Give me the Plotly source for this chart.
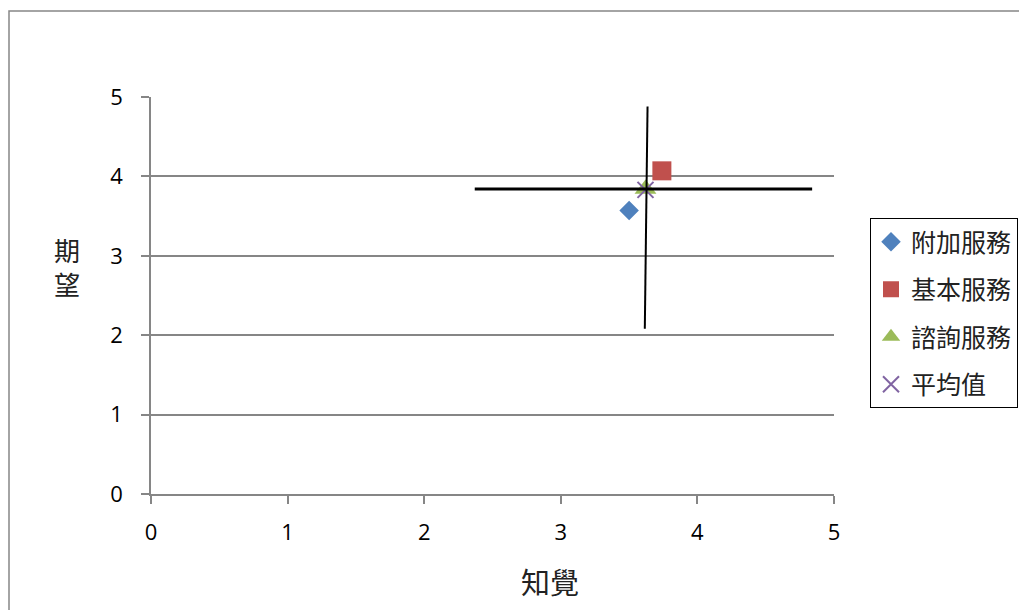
import plotly.graph_objects as go

# Data
series_names = ["附加服務", "基本服務", "諮詢服務", "平均值"]
perception = [3.50, 3.74, 3.62, 3.62]   # 知覺 (x)
expectation = [3.57, 4.07, 3.84, 3.83]  # 期望 (y)
colors = ["#4F81BD", "#C0504D", "#9BBB59", "#8064A2"]
symbols = ["diamond", "square", "triangle-up", "x-thin"]
sizes = [15, 19, 19, 16]

hline_x = [2.37, 4.84]
hline_y = [3.84, 3.84]
vline_x = [3.635, 3.615]
vline_y = [4.88, 2.08]

tick_vals = [0, 1, 2, 3, 4, 5]
tick_text = ["0", "1", "2", "3", "4", "5"]

fig = go.Figure()
for i, name in enumerate(series_names):
    marker = dict(color=colors[i], symbol=symbols[i], size=sizes[i])
    if symbols[i] == "x-thin":
        marker["line"] = dict(color=colors[i], width=2)
    fig.add_trace(go.Scatter(x=[perception[i]], y=[expectation[i]], mode="markers",
                             name=name, marker=marker, legendgroup=f"g{i}"))

fig.add_trace(go.Scatter(x=hline_x, y=hline_y, mode="lines", showlegend=False,
                         line=dict(color="black", width=3), hoverinfo="skip"))
fig.add_trace(go.Scatter(x=vline_x, y=vline_y, mode="lines", showlegend=False,
                         line=dict(color="black", width=2), hoverinfo="skip"))

OFF = 8  # page body margin
W, H = 1027 - OFF, 610 - OFF
L, T = 151 - OFF, 97 - OFF
R, B = 834 - OFF, 494 - OFF
pw, ph = R - L, B - T


def px_x(p):
    return (p - OFF - L) / pw


def px_y(p):
    return (B - (p - OFF)) / ph


tickfont = dict(family="Open Sans, Noto Sans, sans-serif", size=22, color="black")
cjk = "Noto Sans CJK TC, Noto Sans CJK SC, sans-serif"

fig.update_layout(
    width=W, height=H,
    margin=dict(l=L, r=W - R, t=T, b=H - B, autoexpand=False),
    plot_bgcolor="white", paper_bgcolor="white",
    showlegend=True,
    legend=dict(x=px_x(870), y=px_y(218), xanchor="left", yanchor="top",
                bordercolor="black", borderwidth=1, bgcolor="white",
                font=dict(family=cjk, size=25, color="#222222"),
                itemwidth=30, tracegroupgap=12),
    xaxis=dict(range=[0, 5], tickvals=tick_vals, ticktext=tick_text,
               showgrid=False, zeroline=False, showline=True, linecolor="#868686",
               linewidth=1.5, ticks="outside", ticklen=8, tickcolor="#868686",
               tickwidth=1.5, ticklabelstandoff=10,
               tickfont=tickfont, fixedrange=True),
    yaxis=dict(range=[0, 5], tickvals=tick_vals, ticktext=tick_text,
               showgrid=True, gridcolor="#868686", gridwidth=1.5,
               zeroline=False, showline=True, linecolor="#868686", linewidth=1.5,
               ticks="outside", ticklen=8, tickcolor="#868686", tickwidth=1.5,
               ticklabelstandoff=14,
               tickfont=tickfont, fixedrange=True),
    annotations=[
        dict(text="期", x=px_x(67), y=px_y(249), xref="paper", yref="paper",
             xanchor="center", yanchor="middle",
             showarrow=False, font=dict(family=cjk, size=26, color="#222222")),
        dict(text="望", x=px_x(67), y=px_y(283), xref="paper", yref="paper",
             xanchor="center", yanchor="middle",
             showarrow=False, font=dict(family=cjk, size=26, color="#222222")),
        dict(text="知覺", x=px_x(550), y=px_y(581), xref="paper", yref="paper",
             xanchor="center", yanchor="middle",
             showarrow=False, font=dict(family=cjk, size=29, color="#222222")),
    ],
    shapes=[
        dict(type="rect", xref="paper", yref="paper",
             x0=px_x(9), x1=px_x(1100), y0=px_y(700), y1=px_y(11),
             line=dict(color="#868686", width=1.5), fillcolor="rgba(0,0,0,0)",
             layer="below"),
    ],
)

fig.write_html("out.html")
